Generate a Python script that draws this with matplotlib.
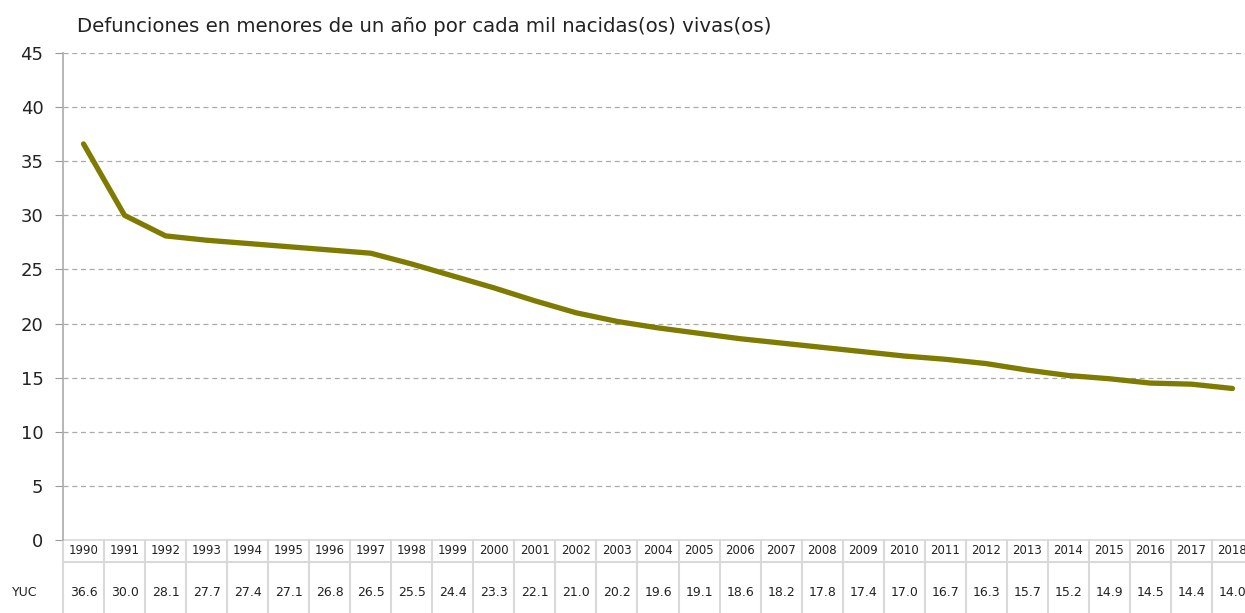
import numpy as np
import matplotlib
matplotlib.use('Agg')
from matplotlib import pyplot as plt
from matplotlib import transforms

years = ['1990', '1991', '1992', '1993', '1994', '1995', '1996', '1997', '1998', '1999',
         '2000', '2001', '2002', '2003', '2004', '2005', '2006', '2007', '2008', '2009',
         '2010', '2011', '2012', '2013', '2014', '2015', '2016', '2017', '2018']
yuc = [36.6, 30.0, 28.1, 27.7, 27.4, 27.1, 26.8, 26.5, 25.5, 24.4,
       23.3, 22.1, 21.0, 20.2, 19.6, 19.1, 18.6, 18.2, 17.8, 17.4,
       17.0, 16.7, 16.3, 15.7, 15.2, 14.9, 14.5, 14.4, 14.0]
series_label = 'YUC'
title = 'Defunciones en menores de un año por cada mil nacidas(os) vivas(os)'

plt.rcParams['font.family'] = ['DejaVu Sans']

fig = plt.figure(figsize=(12.45, 6.13), dpi=100)
ax = fig.add_axes([63 / 1245, 73 / 613, 1190 / 1245, 487 / 613])

x = np.arange(len(years))
ax.plot(x, yuc, color='#7f7a00', lw=3.8, solid_capstyle='round', solid_joinstyle='round', zorder=3)

ax.set_xlim(-0.5, len(years) - 0.5)
ax.set_ylim(0, 45)
ax.set_yticks(range(0, 46, 5))
ax.set_xticks([])
ax.tick_params(axis='y', labelsize=13, labelcolor='#222222', length=6, width=0.8,
               pad=8, color='#999999')
ax.yaxis.grid(True, ls=(0, (4, 3)), color='#aaaaaa', lw=0.9)
ax.set_axisbelow(True)
for side in ['top', 'right', 'bottom']:
    ax.spines[side].set_visible(False)
ax.spines['left'].set_color('#aaaaaa')
ax.spines['left'].set_linewidth(1.2)

ax.text(77 / 1245, 1 - 27 / 613, title, transform=fig.transFigure,
        fontsize=14.2, color='#222222', va='center', ha='left')

# data table under the plot
trans = transforms.blended_transform_factory(ax.transData, ax.transAxes)
h = 487
row_mid = -11 / h
row_split = -22 / h
val_mid = -52 / h
table_bottom = -73 / h
grid_c = '#d9d9d9'
for i in range(len(years) + 1):
    ax.plot([i - 0.5, i - 0.5], [0, table_bottom], transform=trans, color=grid_c,
            lw=1.5, clip_on=False)
ax.plot([-0.5, len(years) - 0.5], [row_split, row_split], transform=trans, color=grid_c,
        lw=1.5, clip_on=False)
ax.plot([-0.5, len(years) - 0.5], [0, 0], transform=trans, color=grid_c,
        lw=1.2, clip_on=False)
for i, (yr, v) in enumerate(zip(years, yuc)):
    ax.text(i, row_mid, yr, transform=trans, ha='center', va='center',
            fontsize=8.5, color='#222222')
    ax.text(i, val_mid, f'{v:.1f}', transform=trans, ha='center', va='center',
            fontsize=9, color='#222222')
ax.text(25 / 1245, 21 / 613, series_label, transform=fig.transFigure, ha='center',
        va='center', fontsize=9, color='#222222')

fig.savefig('out.png', dpi=100)
